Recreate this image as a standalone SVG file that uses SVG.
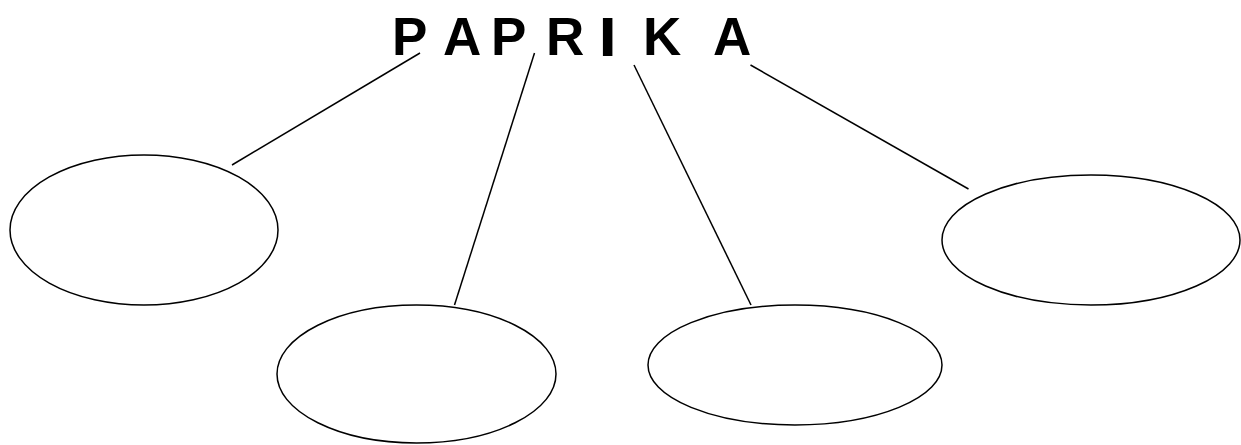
<svg xmlns="http://www.w3.org/2000/svg" width="1241" height="445" viewBox="0 0 1241 445">
<style>
.node{fill:none;stroke:#000;stroke-width:1.5}
.conn line{stroke:#000;stroke-width:1.5}
.title{font-family:"Liberation Sans",Arial,sans-serif;font-weight:bold;font-size:53px;fill:#000}
</style>
<rect width="1241" height="445" fill="#fff"/>
<g id="title">
<text class="title" y="55" x="392 443 491 546">PAPR</text>
<text class="title" style="font-size:55px" transform="translate(602.7,0) scale(1.2,1)" x="-3.5" y="56">I</text>
<text class="title" y="55" x="643 713">KA</text>
</g>
<g id="connectors" class="conn">
<line x1="420" y1="53" x2="232" y2="165"/>
<line x1="534.5" y1="53" x2="454.5" y2="305"/>
<line x1="634" y1="65" x2="751" y2="305"/>
<line x1="750.5" y1="65" x2="968.5" y2="189"/>
</g>
<g id="node1"><ellipse class="node" cx="144" cy="230" rx="134" ry="75"/></g>
<g id="node2"><ellipse class="node" cx="416.5" cy="374" rx="139.5" ry="69"/></g>
<g id="node3"><ellipse class="node" cx="795" cy="365" rx="147" ry="60"/></g>
<g id="node4"><ellipse class="node" cx="1091" cy="240" rx="149" ry="65"/></g>
</svg>
